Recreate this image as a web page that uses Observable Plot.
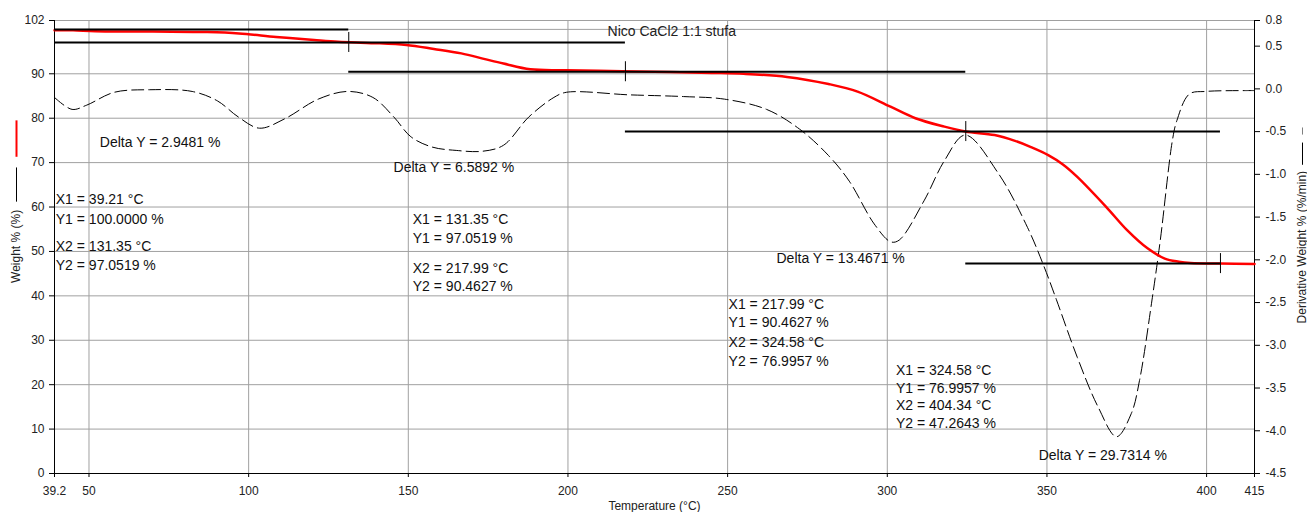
<!DOCTYPE html>
<html>
<head>
<meta charset="utf-8">
<script src="https://cdn.jsdelivr.net/npm/d3@7"></script>
<script src="https://cdn.jsdelivr.net/npm/@observablehq/plot@0.6"></script>
<style>
  html, body { margin: 0; padding: 0; background: #fff; }
</style>
</head>
<body>
<div id="chart"></div>
<script>
// ---------------- data ----------------
const title = "Nico CaCl2 1:1 stufa";
const xLabel = "Temperature (°C)";
const yLeftLabel = "Weight % (%)";
const yRightLabel = "Derivative Weight % (%/min)";

// TGA weight curve (red, left axis)
const weightTemp = [39.2, 45, 52, 70, 87, 97, 108.6, 120.5, 128, 135, 139.6, 149.4, 158, 166.6, 174, 179.8, 188.2, 199.5, 217, 232, 245, 255, 268.6, 281.6, 290.7, 301, 308.8, 317.9, 324.5, 333.6, 340, 345, 350.4, 355, 359.5, 368.6, 375.1, 381.5, 386.9, 391.3, 395, 404.3, 415];
const weightPct  = [99.8, 99.8, 99.6, 99.5, 99.4, 99.1, 98.3, 97.6, 97.2, 97.0, 96.9, 96.5, 95.6, 94.6, 93.3, 92.3, 91.0, 90.8, 90.6, 90.4, 90.2, 90.0, 89.3, 87.7, 86.0, 82.6, 80.0, 78.1, 77.0, 76.2, 74.9, 73.5, 71.7, 69.6, 66.8, 60.0, 54.8, 50.7, 48.4, 47.7, 47.4, 47.26, 47.2];

// Derivative weight curve (dashed, right axis, %/min)
const derivTemp = [39.2, 44.7, 49.3, 57.9, 69.1, 82.3, 90.2, 96.8, 103.4, 111.3, 121.8, 131.0, 138.9, 145.5, 150.8, 157.4, 165, 173.2, 179.8, 187.7, 195.6, 199.5, 219.3, 236.2, 249.0, 262.2, 272.5, 281.6, 288.1, 295.9, 301.1, 303.7, 311.5, 317.9, 324.4, 334.8, 343.9, 349.1, 353.0, 359.5, 366.0, 371.8, 376.4, 379.0, 382.9, 385.5, 389.3, 390.7, 394.6, 399.7, 412.8, 415];
const derivRate = [-0.10, -0.24, -0.19, -0.04, -0.01, -0.03, -0.14, -0.33, -0.46, -0.35, -0.12, -0.03, -0.10, -0.33, -0.56, -0.68, -0.72, -0.73, -0.66, -0.33, -0.10, -0.04, -0.07, -0.09, -0.12, -0.24, -0.47, -0.78, -1.08, -1.58, -1.79, -1.77, -1.31, -0.84, -0.54, -0.99, -1.62, -2.08, -2.47, -3.14, -3.72, -4.07, -3.80, -3.41, -2.47, -1.77, -0.60, -0.37, -0.06, -0.03, -0.02, -0.02];

// Step analyses
const stepX1 = [39.21, 131.35, 217.99, 324.58];
const stepX2 = [131.35, 217.99, 324.58, 404.34];
const stepY1 = [100.0000, 97.0519, 90.4627, 76.9957];
const stepY2 = [97.0519, 90.4627, 76.9957, 47.2643];
const deltaY = [2.9481, 6.5892, 13.4671, 29.7314];

// Ticks
const xTicks = [39.2, 50, 100, 150, 200, 250, 300, 350, 400, 415];
const xGrid = [50, 100, 150, 200, 250, 300, 350, 400];
const yLeftTicks = [0, 10, 20, 30, 40, 50, 60, 70, 80, 90, 102];
const yGrid = [10, 20, 30, 40, 50, 60, 70, 80, 90, 100];
const yRightTicks = [0.8, 0.5, 0.0, -0.5, -1.0, -1.5, -2.0, -2.5, -3.0, -3.5, -4.0, -4.5];

// ---------------- layout ----------------
const W_MIN = 0, W_MAX = 102, D_MIN = -4.5, D_MAX = 0.8;
const toW = d => (d - D_MIN) / (D_MAX - D_MIN) * (W_MAX - W_MIN) + W_MIN;
const fromW = w => (w - W_MIN) / (W_MAX - W_MIN) * (D_MAX - D_MIN) + D_MIN;

// annotation anchor positions (°C, % on left scale)
const groupPos = [
  {x: 39.6, ys: [61.6, 57.3, 51.0, 46.9], dx: 53.4, dy: 74.5},
  {x: 151.4, ys: [57.3, 53.0, 46.2, 42.2], dx: 145.4, dy: 68.8},
  {x: 250.3, ys: [38.1, 34.1, 29.4, 25.3], dx: 265.3, dy: 48.3},
  {x: 302.7, ys: [23.3, 19.2, 15.2, 11.3], dx: 347.4, dy: 4.1}
];

const annotations = [];
stepX1.forEach((x1, i) => {
  const g = groupPos[i];
  const lines = [
    `X1 = ${stepX1[i].toFixed(2)} °C`,
    `Y1 = ${stepY1[i].toFixed(4)} %`,
    `X2 = ${stepX2[i].toFixed(2)} °C`,
    `Y2 = ${stepY2[i].toFixed(4)} %`
  ];
  lines.forEach((t, j) => annotations.push({x: g.x, y: g.ys[j], text: t}));
  annotations.push({x: g.dx, y: g.dy, text: `Delta Y = ${deltaY[i].toFixed(4)} %`});
});

const segments = [];
stepX1.forEach((x1, i) => {
  segments.push({x1, x2: stepX2[i], y: stepY1[i]});
  segments.push({x1, x2: stepX2[i], y: stepY2[i]});
});
const stepMarks = stepX2.map((x, i) => ({x, y: stepY2[i]}));

const wIdx = d3.range(weightTemp.length);
const dIdx = d3.range(derivTemp.length);

const chart = Plot.plot({
  width: 1307,
  height: 512,
  marginLeft: 54,
  marginRight: 53,
  marginTop: 20,
  marginBottom: 39,
  x: {domain: [39.2, 415]},
  y: {domain: [0, 102]},
  style: {fontFamily: "Arial, 'Liberation Sans', sans-serif", fontSize: "12px", background: "#fff", color: "#000", overflow: "visible"},
  marks: [
    Plot.gridX(xGrid, {stroke: "#a0a0a0", strokeOpacity: 1}),
    Plot.gridY(yGrid, {stroke: "#a0a0a0", strokeOpacity: 1}),
    Plot.ruleY([102], {stroke: "#a0a0a0"}),
    Plot.axisX(xTicks, {tickSize: 4, tickPadding: 9, tickFormat: d => String(d), label: null, fontSize: 12, fill: "#222"}),
    Plot.axisY(yLeftTicks, {anchor: "left", tickSize: 5, tickPadding: 5, tickFormat: d => String(d), label: null, fontSize: 12, fill: "#222"}),
    Plot.axisY(yRightTicks.map(toW), {anchor: "right", tickSize: 5, tickPadding: 6, label: null, fontSize: 12, fill: "#222",
      tickFormat: w => { const v = Math.round(fromW(w) * 10) / 10; return (v === 0 ? 0 : v).toFixed(1); }}),
    Plot.ruleX([39.2], {stroke: "#000"}),
    Plot.ruleX([415], {stroke: "#000"}),
    Plot.ruleY([0], {stroke: "#000"}),
    // derivative curve
    Plot.line(dIdx, {x: i => derivTemp[i], y: i => toW(derivRate[i]), stroke: "#000", strokeWidth: 1, strokeDasharray: "12,5", curve: "catmull-rom"}),
    // weight curve
    Plot.line(wIdx, {x: i => weightTemp[i], y: i => weightPct[i], stroke: "#ff0000", strokeWidth: 2.5, curve: "catmull-rom"}),
    // step lines
    Plot.ruleY(segments, {x1: "x1", x2: "x2", y: "y", stroke: "#000", strokeWidth: 2}),
    Plot.ruleX(stepMarks, {x: "x", y1: "y", y2: "y", insetTop: -10, insetBottom: -10, stroke: "#000", strokeWidth: 1}),
    // annotations
    Plot.text(annotations, {x: "x", y: "y", text: "text", textAnchor: "start", lineAnchor: "middle", fontSize: 14, fill: "#111"}),
    // title
    Plot.text([title], {x: 212.4, y: 99.6, textAnchor: "start", lineAnchor: "middle", fontSize: 14, fill: "#222"}),
    // x axis label
    Plot.text([xLabel], {frameAnchor: "bottom", dy: 33, lineAnchor: "middle", fontSize: 12, fill: "#222"}),
    // left axis label + legend swatches
    Plot.text([yLeftLabel], {x: 39.2, y: 42.9, dx: -38, rotate: -90, textAnchor: "start", lineAnchor: "middle", fontSize: 12, fill: "#222"}),
    Plot.ruleX([39.2], {x: d => d, y1: 61.1, y2: 68.8, dx: -38, stroke: "#000", strokeWidth: 1}),
    Plot.ruleX([39.2], {x: d => d, y1: 71.2, y2: 79.4, dx: -38, stroke: "#ff0000", strokeWidth: 2}),
    // right axis label + legend swatches
    Plot.text([yRightLabel], {x: 415, y: 33.8, dx: 48, rotate: -90, textAnchor: "start", lineAnchor: "middle", fontSize: 12, fill: "#222"}),
    Plot.ruleX([415], {x: d => d, y1: 69.4, y2: 74.4, dx: 48, stroke: "#000", strokeWidth: 1}),
    Plot.ruleX([415], {x: d => d, y1: 76.2, y2: 77.8, dx: 48, stroke: "#808080", strokeWidth: 1})
  ]
});
document.getElementById("chart").appendChild(chart);
</script>
</body>
</html>
